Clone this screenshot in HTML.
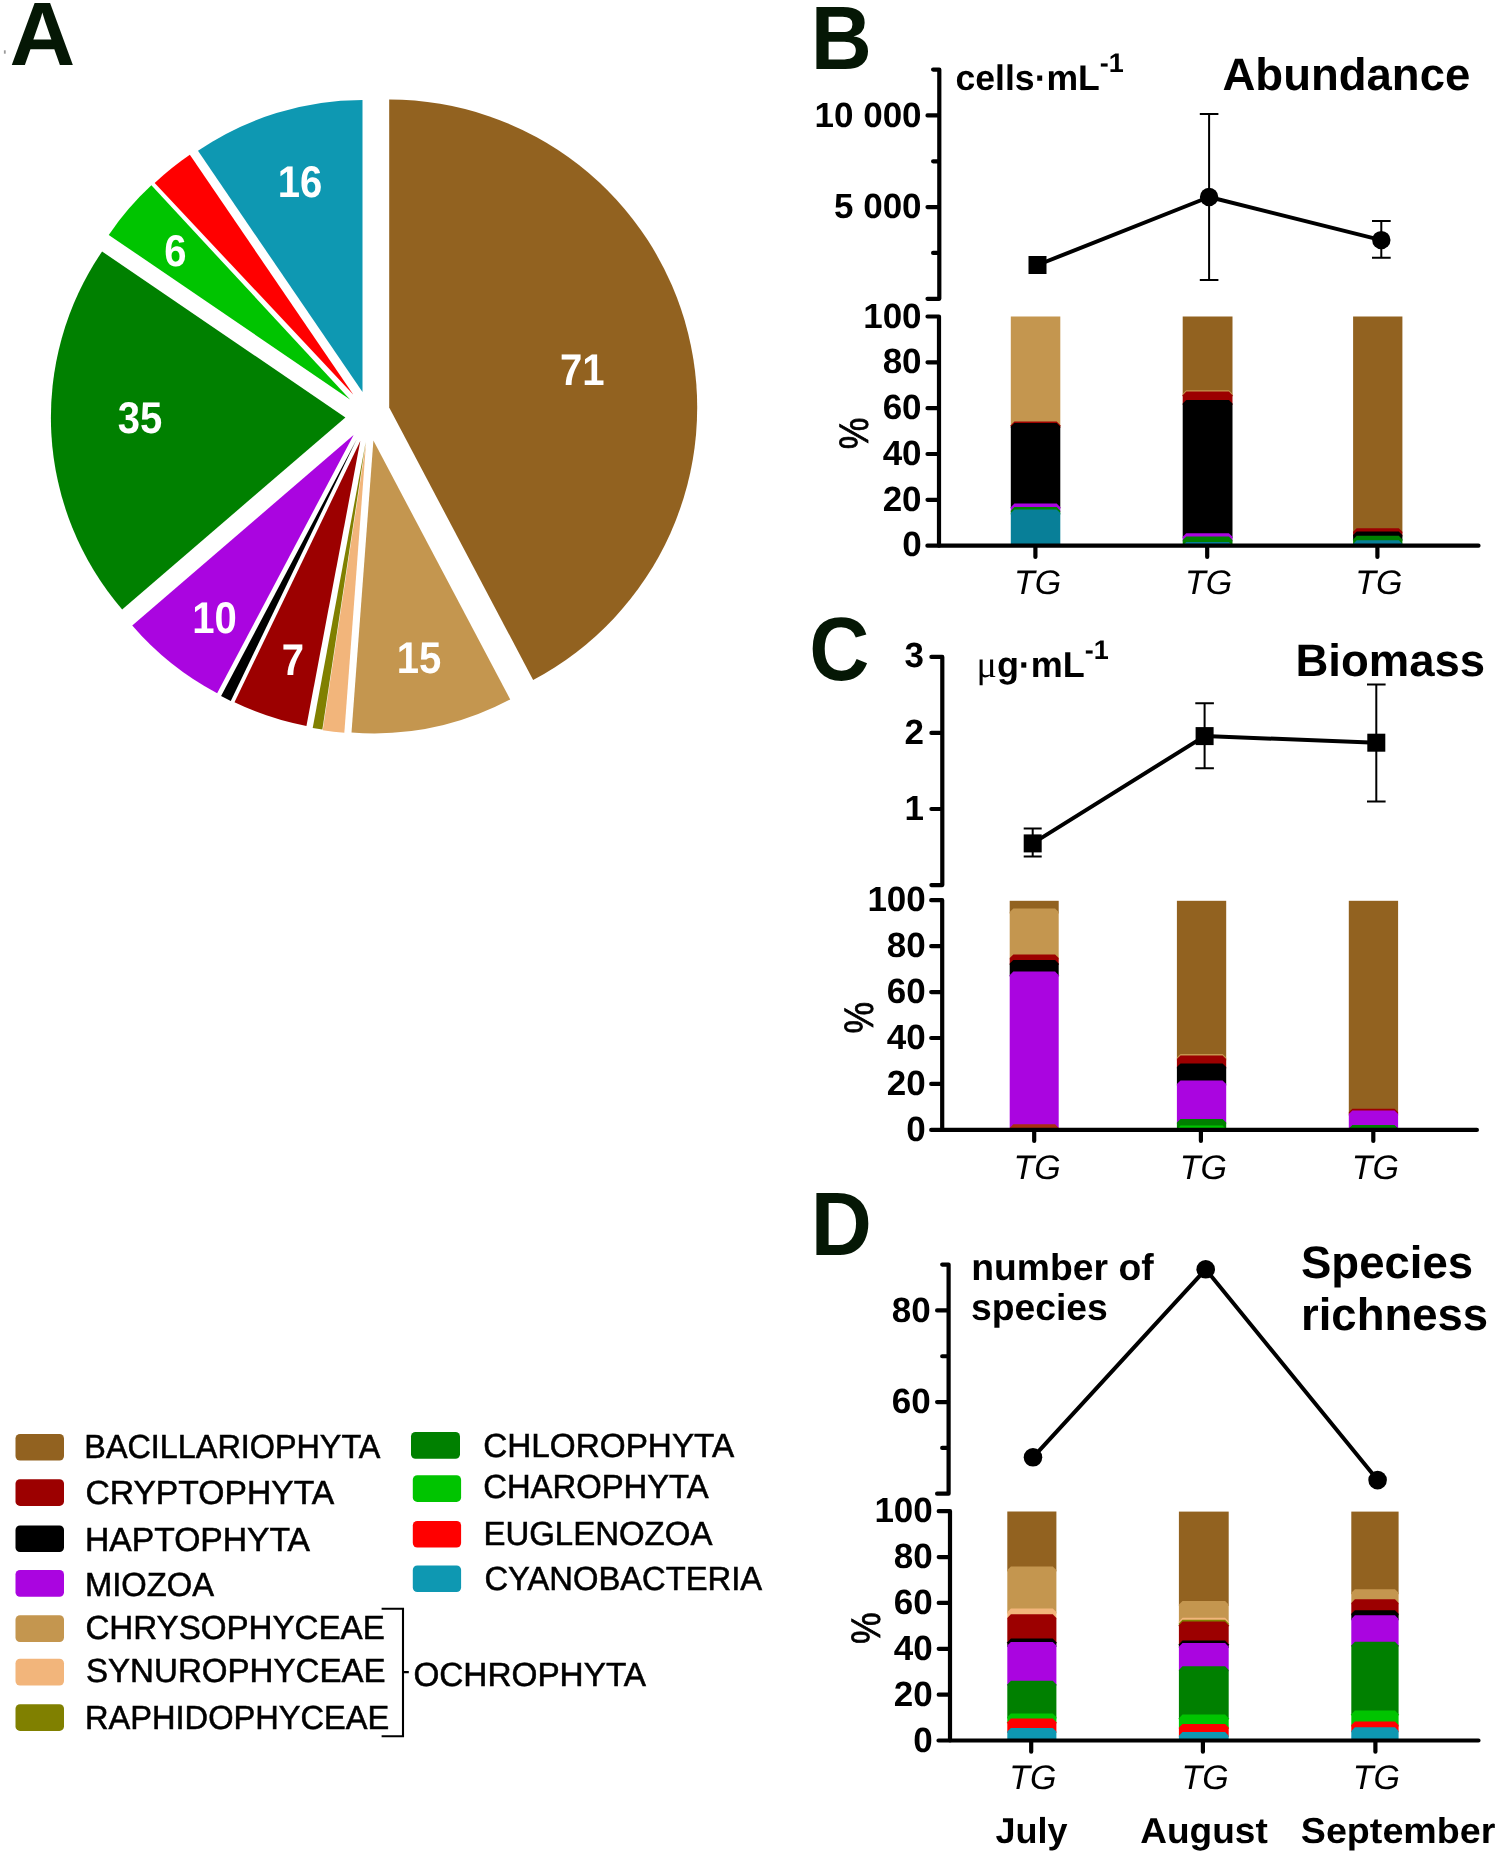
<!DOCTYPE html>
<html lang="en">
<head>
<meta charset="utf-8">
<title>Phytoplankton composition, abundance, biomass and species richness</title>
<style>
html,body{margin:0;padding:0;background:#fff;}
body{width:1499px;height:1856px;overflow:hidden;}
svg{display:block;will-change:transform;}
text{white-space:pre;}
</style>
</head>
<body>
<svg width="1499" height="1856" viewBox="0 0 1499 1856" text-rendering="geometricPrecision">
<rect width="1499" height="1856" fill="#fff"/>
<rect x="3.9" y="50.3" width="1.8" height="3.4" fill="#9a9a9a"/>
<g id="pie">
<path d="M389.20 407.60L389.20 99.60A308.00 308.00 0 0 1 533.13 679.90Z" fill="#926220"/>
<path d="M373.40 440.60L510.23 699.46A292.80 292.80 0 0 1 351.50 732.58Z" fill="#c4964f"/>
<path d="M366.10 442.60L344.33 732.78A291.00 291.00 0 0 1 322.74 730.35Z" fill="#f2b57b"/>
<path d="M365.70 442.00L322.37 729.55A290.80 290.80 0 0 1 312.71 727.93Z" fill="#808000"/>
<path d="M360.30 441.00L306.41 725.95A290.00 290.00 0 0 1 234.49 702.29Z" fill="#9c0000"/>
<path d="M356.60 439.60L230.79 700.89A290.00 290.00 0 0 1 221.08 695.99Z" fill="#000000"/>
<path d="M353.60 435.00L217.14 693.15A292.00 292.00 0 0 1 132.26 625.45Z" fill="#aa05e0"/>
<path d="M345.40 417.40L122.16 609.48A294.50 294.50 0 0 1 102.09 251.48Z" fill="#008000"/>
<path d="M350.00 399.40L108.75 234.89A292.00 292.00 0 0 1 151.38 185.36Z" fill="#00c400"/>
<path d="M353.40 394.70L154.68 183.08A290.30 290.30 0 0 1 189.85 154.86Z" fill="#ff0000"/>
<path d="M362.50 392.10L197.99 150.85A292.00 292.00 0 0 1 362.50 100.10Z" fill="#0e98b2"/>
</g>
<g id="pielabels" font-family='"Liberation Sans", Arial, Helvetica, sans-serif' font-weight="bold" font-size="44.5" fill="#ffffff" text-anchor="middle">
<text transform="translate(582.3 385.0) scale(0.9 1)">71</text>
<text transform="translate(419.0 672.5) scale(0.9 1)">15</text>
<text transform="translate(293.0 675.0) scale(0.9 1)">7</text>
<text transform="translate(214.5 632.5) scale(0.9 1)">10</text>
<text transform="translate(140.0 432.5) scale(0.9 1)">35</text>
<text transform="translate(175.5 266.0) scale(0.9 1)">6</text>
<text transform="translate(300.0 197.3) scale(0.9 1)">16</text>
</g>
<g id="letters" font-family='"Liberation Sans", Arial, Helvetica, sans-serif' font-weight="bold" font-size="90" fill="#051705">
<text transform="translate(9.6 65.3) scale(1.012 1)">A</text>
<text transform="translate(810.8 68.6) scale(0.94 1)">B</text>
<text transform="translate(809.2 679.5) scale(0.925 1)">C</text>
<text transform="translate(810.8 1254.6) scale(0.94 1)">D</text>
</g>
<g id="legend" font-family='"Liberation Sans", Arial, Helvetica, sans-serif' font-size="33.4" fill="#000" stroke="#000" stroke-width="0.55">
<rect x="15.5" y="1433.9" width="48.5" height="26.7" rx="4.5" fill="#926220" stroke="none"/>
<text x="84.3" y="1458.3" textLength="296.1" lengthAdjust="spacingAndGlyphs">BACILLARIOPHYTA</text>
<rect x="15.5" y="1479.2" width="48.5" height="26.7" rx="4.5" fill="#9c0000" stroke="none"/>
<text x="85.4" y="1504.0" textLength="248.8" lengthAdjust="spacingAndGlyphs">CRYPTOPHYTA</text>
<rect x="15.5" y="1525.4" width="48.5" height="26.7" rx="4.5" fill="#000000" stroke="none"/>
<text x="85.0" y="1551.3" textLength="225.0" lengthAdjust="spacingAndGlyphs">HAPTOPHYTA</text>
<rect x="15.5" y="1570.0" width="48.5" height="26.7" rx="4.5" fill="#aa05e0" stroke="none"/>
<text x="85.0" y="1596.1" textLength="129.0" lengthAdjust="spacingAndGlyphs">MIOZOA</text>
<rect x="15.5" y="1615.3" width="48.5" height="26.7" rx="4.5" fill="#c4964f" stroke="none"/>
<text x="85.4" y="1639.3" textLength="299.4" lengthAdjust="spacingAndGlyphs">CHRYSOPHYCEAE</text>
<rect x="15.5" y="1658.8" width="48.5" height="26.7" rx="4.5" fill="#f2b57b" stroke="none"/>
<text x="86.0" y="1681.5" textLength="299.6" lengthAdjust="spacingAndGlyphs">SYNUROPHYCEAE</text>
<rect x="15.5" y="1704.2" width="48.5" height="26.7" rx="4.5" fill="#808000" stroke="none"/>
<text x="85.0" y="1728.6" textLength="304.3" lengthAdjust="spacingAndGlyphs">RAPHIDOPHYCEAE</text>
<rect x="411.0" y="1432.0" width="49.0" height="26.7" rx="4.5" fill="#008000" stroke="none"/>
<text x="483.2" y="1456.8" textLength="251.0" lengthAdjust="spacingAndGlyphs">CHLOROPHYTA</text>
<rect x="412.8" y="1475.2" width="48.3" height="26.7" rx="4.5" fill="#00c400" stroke="none"/>
<text x="483.2" y="1497.9" textLength="225.4" lengthAdjust="spacingAndGlyphs">CHAROPHYTA</text>
<rect x="412.8" y="1520.9" width="48.3" height="26.7" rx="4.5" fill="#ff0000" stroke="none"/>
<text x="483.4" y="1544.9" textLength="229.0" lengthAdjust="spacingAndGlyphs">EUGLENOZOA</text>
<rect x="412.8" y="1565.4" width="48.3" height="26.7" rx="4.5" fill="#0e98b2" stroke="none"/>
<text x="484.4" y="1590.2" textLength="277.8" lengthAdjust="spacingAndGlyphs">CYANOBACTERIA</text>
<text x="413.4" y="1685.5" textLength="232.6" lengthAdjust="spacingAndGlyphs">OCHROPHYTA</text>
<path d="M381.6 1608.8H403V1736.2H381.6M403 1672.1H408.8" fill="none" stroke="#000" stroke-width="2.1"/>
</g>
<g id="panelB">
<rect x="1010.80" y="316.50" width="49.50" height="110.10" fill="#c4964f"/>
<path d="M1010.80 428.00V425.20L1014.40 421.60H1056.70L1060.30 425.20V428.00Z" fill="#9c0000"/>
<path d="M1010.80 508.60V426.60L1014.40 423.00H1056.70L1060.30 426.60V508.60Z" fill="#000000"/>
<path d="M1010.80 512.10V507.20L1014.40 503.60H1056.70L1060.30 507.20V512.10Z" fill="#aa05e0"/>
<path d="M1010.80 514.50V510.70L1014.40 507.10H1056.70L1060.30 510.70V514.50Z" fill="#008000"/>
<path d="M1010.80 545.70V513.10L1014.40 509.50H1056.70L1060.30 513.10V545.70Z" fill="#087f98"/>
<rect x="1182.70" y="316.50" width="49.80" height="78.70" fill="#926220"/>
<path d="M1182.70 396.60V393.80L1186.30 390.20H1228.90L1232.50 393.80V396.60Z" fill="#c4964f"/>
<path d="M1182.70 405.00V395.20L1186.30 391.60H1228.90L1232.50 395.20V405.00Z" fill="#9c0000"/>
<path d="M1182.70 538.20V403.60L1186.30 400.00H1228.90L1232.50 403.60V538.20Z" fill="#000000"/>
<path d="M1182.70 541.50V536.80L1186.30 533.20H1228.90L1232.50 536.80V541.50Z" fill="#aa05e0"/>
<path d="M1182.70 545.70V540.10L1186.30 536.50H1228.90L1232.50 540.10V545.70Z" fill="#008000"/>
<path d="M1182.70 545.70V545.60L1186.30 542.00H1228.90L1232.50 545.60V545.70Z" fill="#087f98"/>
<rect x="1353.10" y="316.50" width="49.30" height="216.70" fill="#926220"/>
<path d="M1353.10 536.50V531.80L1356.70 528.20H1398.80L1402.40 531.80V536.50Z" fill="#9c0000"/>
<path d="M1353.10 540.80V535.10L1356.70 531.50H1398.80L1402.40 535.10V540.80Z" fill="#000000"/>
<path d="M1353.10 545.30V539.40L1356.70 535.80H1398.80L1402.40 539.40V545.30Z" fill="#008000"/>
<path d="M1353.10 545.70V543.90L1356.70 540.30H1398.80L1402.40 543.90V545.70Z" fill="#087f98"/>
<path d="M939.3 69.60V298.80M933.10 69.60H939.30M927.50 115.44H939.30M933.10 161.28H939.30M927.50 207.12H939.30M933.10 252.96H939.30M927.50 298.80H939.30" fill="none" stroke="#000" stroke-width="4.2" stroke-linecap="round" stroke-linejoin="round"/>
<path d="M939.0 316.50V545.70M927.50 316.50H939.00M927.50 362.34H939.00M927.50 408.18H939.00M927.50 454.02H939.00M927.50 499.86H939.00" fill="none" stroke="#000" stroke-width="4.2" stroke-linecap="round" stroke-linejoin="round"/>
<path d="M927.40 545.70H1478.50M1035.40 545.70V556.90M1207.20 545.70V556.90M1377.40 545.70V556.90" fill="none" stroke="#000" stroke-width="4.2" stroke-linecap="round"/>
<g font-family='"Liberation Sans", Arial, Helvetica, sans-serif' font-weight="bold" font-size="35" fill="#000" text-anchor="end">
<text x="921.6" y="126.8" xml:space="preserve">10 000</text>
<text x="921.6" y="218.4" xml:space="preserve">5 000</text>
</g>
<g font-family='"Liberation Sans", Arial, Helvetica, sans-serif' font-weight="bold" font-size="35" fill="#000" text-anchor="end">
<text x="921.6" y="327.6" xml:space="preserve">100</text>
<text x="921.6" y="373.4" xml:space="preserve">80</text>
<text x="921.6" y="419.1" xml:space="preserve">60</text>
<text x="921.6" y="464.9" xml:space="preserve">40</text>
<text x="921.6" y="510.6" xml:space="preserve">20</text>
<text x="921.6" y="556.4" xml:space="preserve">0</text>
</g>
<text transform="translate(868.0 433.4) rotate(-90) scale(1 1.16)" font-family='"Liberation Sans", Arial, Helvetica, sans-serif' font-size="35.5" text-anchor="middle" fill="#000" stroke="#000" stroke-width="0.7">%</text>
<g font-family='"Liberation Sans", Arial, Helvetica, sans-serif' font-style="italic" font-size="34" fill="#000" text-anchor="middle">
<text x="1037.6" y="594.2">TG</text>
<text x="1208.7" y="594.2">TG</text>
<text x="1378.8" y="594.2">TG</text>
</g>
<path d="M1037.5 265L1209.1 197L1381.3 240.1" fill="none" stroke="#000" stroke-width="4" stroke-linejoin="round"/>
<path d="M1209.1 113.9V280M1199.8 113.9H1218.4M1199.8 280H1218.4M1381.3 220.9V257.7M1372 220.9H1390.7M1372 257.7H1390.7" fill="none" stroke="#000" stroke-width="2"/>
<rect x="1028.5" y="256" width="18" height="18" fill="#000"/>
<circle cx="1209.1" cy="197" r="9.2" fill="#000"/><circle cx="1381.3" cy="240.1" r="9.2" fill="#000"/>
<text x="955.5" y="90" font-family='"Liberation Sans", Arial, Helvetica, sans-serif' font-weight="bold" font-size="35.6" fill="#000">cells·mL<tspan font-size="27" dy="-18.5">-1</tspan></text>
<text x="1222.5" y="89.7" font-family='"Liberation Sans", Arial, Helvetica, sans-serif' font-weight="bold" font-size="45.5" fill="#000">Abundance</text>
</g>
<g id="panelC">
<rect x="1009.70" y="900.80" width="49.00" height="12.70" fill="#926220"/>
<path d="M1009.70 959.50V912.10L1013.30 908.50H1055.10L1058.70 912.10V959.50Z" fill="#c4964f"/>
<path d="M1009.70 964.90V958.10L1013.30 954.50H1055.10L1058.70 958.10V964.90Z" fill="#9c0000"/>
<path d="M1009.70 976.60V963.50L1013.30 959.90H1055.10L1058.70 963.50V976.60Z" fill="#000000"/>
<path d="M1009.70 1129.30V975.20L1013.30 971.60H1055.10L1058.70 975.20V1129.30Z" fill="#aa05e0"/>
<path d="M1009.70 1129.90V1127.90L1013.30 1124.30H1055.10L1058.70 1127.90V1129.90Z" fill="#a83010"/>
<rect x="1176.90" y="900.80" width="49.30" height="158.10" fill="#926220"/>
<path d="M1176.90 1060.50V1057.50L1180.50 1053.90H1222.60L1226.20 1057.50V1060.50Z" fill="#c4964f"/>
<path d="M1176.90 1068.40V1059.10L1180.50 1055.50H1222.60L1226.20 1059.10V1068.40Z" fill="#9c0000"/>
<path d="M1176.90 1085.40V1067.00L1180.50 1063.40H1222.60L1226.20 1067.00V1085.40Z" fill="#000000"/>
<path d="M1176.90 1124.00V1084.00L1180.50 1080.40H1222.60L1226.20 1084.00V1124.00Z" fill="#aa05e0"/>
<path d="M1176.90 1129.90V1122.60L1180.50 1119.00H1222.60L1226.20 1122.60V1129.90Z" fill="#008000"/>
<path d="M1176.90 1129.90V1129.20L1180.50 1125.60H1222.60L1226.20 1129.20V1129.90Z" fill="#00c400"/>
<rect x="1348.80" y="900.80" width="49.30" height="212.90" fill="#926220"/>
<path d="M1348.80 1115.50V1112.30L1352.40 1108.70H1394.50L1398.10 1112.30V1115.50Z" fill="#9c0000"/>
<path d="M1348.80 1129.90V1114.10L1352.40 1110.50H1394.50L1398.10 1114.10V1129.90Z" fill="#aa05e0"/>
<path d="M1348.80 1129.90V1128.50L1352.40 1124.90H1394.50L1398.10 1128.50V1129.90Z" fill="#008000"/>
<path d="M942.3000000000001 656.90V885.10M931.40 656.90H942.30M931.40 732.90H942.30M931.40 809.00H942.30M931.40 885.10H942.30" fill="none" stroke="#000" stroke-width="4.2" stroke-linecap="round" stroke-linejoin="round"/>
<path d="M942.2 900.20V1129.90M931.20 900.20H942.20M931.20 946.14H942.20M931.20 992.08H942.20M931.20 1038.02H942.20M931.20 1083.96H942.20" fill="none" stroke="#000" stroke-width="4.2" stroke-linecap="round" stroke-linejoin="round"/>
<path d="M931.20 1129.90H1476.90M1034.20 1129.90V1140.90M1200.90 1129.90V1140.90M1373.30 1129.90V1140.90" fill="none" stroke="#000" stroke-width="4.2" stroke-linecap="round"/>
<g font-family='"Liberation Sans", Arial, Helvetica, sans-serif' font-weight="bold" font-size="35" fill="#000" text-anchor="end">
<text x="924.0" y="667.2" xml:space="preserve">3</text>
<text x="924.0" y="743.9" xml:space="preserve">2</text>
<text x="924.0" y="819.7" xml:space="preserve">1</text>
</g>
<g font-family='"Liberation Sans", Arial, Helvetica, sans-serif' font-weight="bold" font-size="35" fill="#000" text-anchor="end">
<text x="925.8" y="911.4" xml:space="preserve">100</text>
<text x="925.8" y="957.3" xml:space="preserve">80</text>
<text x="925.8" y="1003.3" xml:space="preserve">60</text>
<text x="925.8" y="1049.2" xml:space="preserve">40</text>
<text x="925.8" y="1095.2" xml:space="preserve">20</text>
<text x="925.8" y="1141.1" xml:space="preserve">0</text>
</g>
<text transform="translate(872.6 1017.7) rotate(-90) scale(1 1.16)" font-family='"Liberation Sans", Arial, Helvetica, sans-serif' font-size="35.5" text-anchor="middle" fill="#000" stroke="#000" stroke-width="0.7">%</text>
<g font-family='"Liberation Sans", Arial, Helvetica, sans-serif' font-style="italic" font-size="34" fill="#000" text-anchor="middle">
<text x="1037.0" y="1178.6">TG</text>
<text x="1203.4" y="1178.6">TG</text>
<text x="1375.4" y="1178.6">TG</text>
</g>
<path d="M1032.7 843.4L1204.6 736.1L1376.3 742.7" fill="none" stroke="#000" stroke-width="4" stroke-linejoin="round"/>
<path d="M1032.7 828.4V856.4M1023.7 828.4H1041.7M1023.7 856.4H1041.7M1204.6 703.3V768.2M1195.3 703.3H1213.9M1195.3 768.2H1213.9M1376.3 684.6V801.5M1367 684.6H1385.6M1367 801.5H1385.6" fill="none" stroke="#000" stroke-width="2"/>
<rect x="1023.7" y="834.4" width="18" height="18" fill="#000"/>
<rect x="1195.6" y="727.1" width="18" height="18" fill="#000"/>
<rect x="1367.3" y="733.7" width="18" height="18" fill="#000"/>
<text x="976.5" y="677.4" font-family='"Liberation Sans", Arial, Helvetica, sans-serif' font-weight="bold" font-size="36" fill="#000"><tspan font-family='"Liberation Serif", "DejaVu Serif", serif' font-weight="normal" font-size="38">μ</tspan>g·mL<tspan font-size="27" dy="-18">-1</tspan></text>
<text x="1295.5" y="675.9" font-family='"Liberation Sans", Arial, Helvetica, sans-serif' font-weight="bold" font-size="45.5" fill="#000">Biomass</text>
</g>
<g id="panelD">
<rect x="1007.30" y="1511.50" width="49.10" height="59.90" fill="#926220"/>
<path d="M1007.30 1613.40V1570.00L1010.90 1566.40H1052.80L1056.40 1570.00V1613.40Z" fill="#c4964f"/>
<path d="M1007.30 1619.30V1612.00L1010.90 1608.40H1052.80L1056.40 1612.00V1619.30Z" fill="#f2b57b"/>
<path d="M1007.30 1643.60V1617.90L1010.90 1614.30H1052.80L1056.40 1617.90V1643.60Z" fill="#9c0000"/>
<path d="M1007.30 1647.00V1642.20L1010.90 1638.60H1052.80L1056.40 1642.20V1647.00Z" fill="#000000"/>
<path d="M1007.30 1685.80V1645.60L1010.90 1642.00H1052.80L1056.40 1645.60V1685.80Z" fill="#aa05e0"/>
<path d="M1007.30 1718.50V1684.40L1010.90 1680.80H1052.80L1056.40 1684.40V1718.50Z" fill="#008000"/>
<path d="M1007.30 1723.60V1717.10L1010.90 1713.50H1052.80L1056.40 1717.10V1723.60Z" fill="#00c400"/>
<path d="M1007.30 1733.00V1722.20L1010.90 1718.60H1052.80L1056.40 1722.20V1733.00Z" fill="#ff0000"/>
<path d="M1007.30 1740.50V1731.60L1010.90 1728.00H1052.80L1056.40 1731.60V1740.50Z" fill="#0e98b2"/>
<rect x="1178.90" y="1511.60" width="49.80" height="94.30" fill="#926220"/>
<path d="M1178.90 1622.80V1604.50L1182.50 1600.90H1225.10L1228.70 1604.50V1622.80Z" fill="#c4964f"/>
<path d="M1178.90 1624.80V1621.40L1182.50 1617.80H1225.10L1228.70 1621.40V1624.80Z" fill="#f2b57b"/>
<path d="M1178.90 1626.60V1623.40L1182.50 1619.80H1225.10L1228.70 1623.40V1626.60Z" fill="#808000"/>
<path d="M1178.90 1645.60V1625.20L1182.50 1621.60H1225.10L1228.70 1625.20V1645.60Z" fill="#9c0000"/>
<path d="M1178.90 1648.10V1644.20L1182.50 1640.60H1225.10L1228.70 1644.20V1648.10Z" fill="#000000"/>
<path d="M1178.90 1671.30V1646.70L1182.50 1643.10H1225.10L1228.70 1646.70V1671.30Z" fill="#aa05e0"/>
<path d="M1178.90 1719.60V1669.90L1182.50 1666.30H1225.10L1228.70 1669.90V1719.60Z" fill="#008000"/>
<path d="M1178.90 1729.00V1718.20L1182.50 1714.60H1225.10L1228.70 1718.20V1729.00Z" fill="#00c400"/>
<path d="M1178.90 1737.10V1727.60L1182.50 1724.00H1225.10L1228.70 1727.60V1737.10Z" fill="#ff0000"/>
<path d="M1178.90 1740.50V1735.70L1182.50 1732.10H1225.10L1228.70 1735.70V1740.50Z" fill="#0e98b2"/>
<rect x="1351.30" y="1511.60" width="47.30" height="82.60" fill="#926220"/>
<path d="M1351.30 1604.30V1592.80L1354.90 1589.20H1395.00L1398.60 1592.80V1604.30Z" fill="#c4964f"/>
<path d="M1351.30 1615.20V1602.90L1354.90 1599.30H1395.00L1398.60 1602.90V1615.20Z" fill="#9c0000"/>
<path d="M1351.30 1620.30V1613.80L1354.90 1610.20H1395.00L1398.60 1613.80V1620.30Z" fill="#000000"/>
<path d="M1351.30 1646.80V1618.90L1354.90 1615.30H1395.00L1398.60 1618.90V1646.80Z" fill="#aa05e0"/>
<path d="M1351.30 1715.60V1645.40L1354.90 1641.80H1395.00L1398.60 1645.40V1715.60Z" fill="#008000"/>
<path d="M1351.30 1726.50V1714.20L1354.90 1710.60H1395.00L1398.60 1714.20V1726.50Z" fill="#00c400"/>
<path d="M1351.30 1732.30V1725.10L1354.90 1721.50H1395.00L1398.60 1725.10V1732.30Z" fill="#ff0000"/>
<path d="M1351.30 1740.50V1730.90L1354.90 1727.30H1395.00L1398.60 1730.90V1740.50Z" fill="#0e98b2"/>
<path d="M948.6 1264.60V1493.70M942.20 1264.60H948.60M937.10 1310.42H948.60M942.20 1356.24H948.60M937.10 1402.06H948.60M942.20 1447.88H948.60M937.10 1493.70H948.60" fill="none" stroke="#000" stroke-width="4.2" stroke-linecap="round" stroke-linejoin="round"/>
<path d="M950.0 1511.20V1740.50M938.70 1511.20H950.00M938.70 1557.06H950.00M938.70 1602.92H950.00M938.70 1648.78H950.00M938.70 1694.64H950.00" fill="none" stroke="#000" stroke-width="4.2" stroke-linecap="round" stroke-linejoin="round"/>
<path d="M938.50 1740.50H1478.50M1031.20 1740.50V1751.70M1202.90 1740.50V1751.70M1375.40 1740.50V1751.70" fill="none" stroke="#000" stroke-width="4.2" stroke-linecap="round"/>
<g font-family='"Liberation Sans", Arial, Helvetica, sans-serif' font-weight="bold" font-size="35" fill="#000" text-anchor="end">
<text x="930.8" y="1321.6" xml:space="preserve">80</text>
<text x="930.8" y="1413.2" xml:space="preserve">60</text>
</g>
<g font-family='"Liberation Sans", Arial, Helvetica, sans-serif' font-weight="bold" font-size="35" fill="#000" text-anchor="end">
<text x="932.8" y="1522.3" xml:space="preserve">100</text>
<text x="932.8" y="1568.1" xml:space="preserve">80</text>
<text x="932.8" y="1614.0" xml:space="preserve">60</text>
<text x="932.8" y="1659.8" xml:space="preserve">40</text>
<text x="932.8" y="1705.7" xml:space="preserve">20</text>
<text x="932.8" y="1751.5" xml:space="preserve">0</text>
</g>
<text transform="translate(880.0 1628.2) rotate(-90) scale(1 1.16)" font-family='"Liberation Sans", Arial, Helvetica, sans-serif' font-size="35.5" text-anchor="middle" fill="#000" stroke="#000" stroke-width="0.7">%</text>
<g font-family='"Liberation Sans", Arial, Helvetica, sans-serif' font-style="italic" font-size="34" fill="#000" text-anchor="middle">
<text x="1032.9" y="1789.2">TG</text>
<text x="1205.1" y="1789.2">TG</text>
<text x="1376.3" y="1789.2">TG</text>
</g>
<path d="M1033 1457.3L1205.7 1269.3L1377.6 1480.1" fill="none" stroke="#000" stroke-width="4" stroke-linejoin="round"/>
<circle cx="1033" cy="1457.3" r="9.3" fill="#000"/>
<circle cx="1205.7" cy="1269.3" r="9.3" fill="#000"/>
<circle cx="1377.6" cy="1480.1" r="9.3" fill="#000"/>
<g font-family='"Liberation Sans", Arial, Helvetica, sans-serif' font-weight="bold" font-size="37.3" fill="#000"><text x="971.3" y="1279.9">number of</text><text x="971" y="1320.4">species</text></g>
<g font-family='"Liberation Sans", Arial, Helvetica, sans-serif' font-weight="bold" font-size="45.5" fill="#000"><text x="1301" y="1278.4">Species</text><text x="1301" y="1329.7">richness</text></g>
<g font-family='"Liberation Sans", Arial, Helvetica, sans-serif' font-weight="bold" font-size="36" fill="#000" text-anchor="middle"><text x="1031.5" y="1843">July</text><text x="1204" y="1842.5" textLength="127.5" lengthAdjust="spacingAndGlyphs">August</text><text x="1398.1" y="1842.5" textLength="194.5" lengthAdjust="spacingAndGlyphs">September</text></g>
</g>
</svg>
</body>
</html>
